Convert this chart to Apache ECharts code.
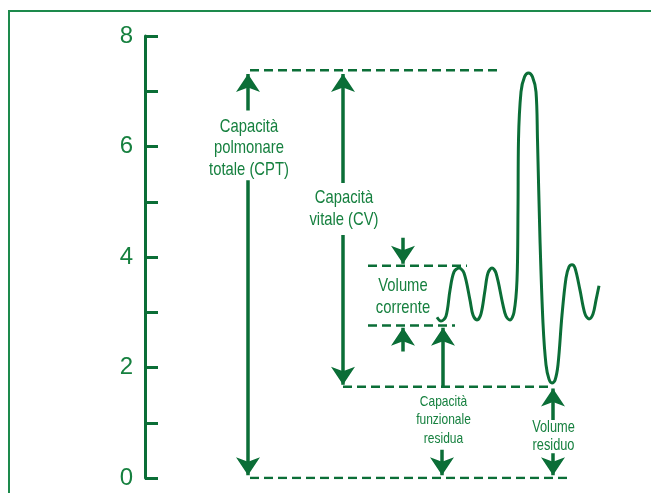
<!DOCTYPE html>
<html>
<head>
<meta charset="utf-8">
<script src="https://cdn.jsdelivr.net/npm/echarts@6/dist/echarts.min.js"></script>
<style>
  html, body { margin: 0; padding: 0; background: #fff; }
  #chart { width: 651px; height: 493px; }
</style>
</head>
<body>
<div id="chart"></div>
<script>
// spirogram: volume (litri) vs tempo (unita arbitrarie 0-100)
const yTicks = [0, 2, 4, 6, 8];

const traceX = [58.4, 59.2, 60.2, 61.0, 61.8, 62.8, 63.8, 65.0, 65.6, 66.4, 67.2, 68.0, 68.6, 69.4, 70.2,
  71.6, 72.2, 73.0, 73.8, 74.4, 74.6, 74.7, 75.2, 75.9, 76.7, 77.5, 78.2, 78.5, 79.0, 79.6,
  80.2, 80.8, 81.4, 82.0, 82.6, 83.4, 84.2, 84.8, 85.4, 86.0, 87.0, 88.0, 88.8, 89.6, 90.2, 90.8];
const traceY = [2.91, 2.84, 2.93, 3.40, 3.73, 3.80, 3.71, 3.22, 2.95, 2.86, 2.97, 3.40, 3.71, 3.80, 3.71,
  3.13, 2.93, 2.86, 3.00, 3.58, 4.85, 6.12, 6.99, 7.26, 7.33, 7.26, 6.99, 6.12, 4.31, 2.80,
  2.05, 1.79, 1.72, 1.77, 2.05, 2.95, 3.62, 3.82, 3.86, 3.80, 3.40, 2.97, 2.88, 2.97, 3.22, 3.48];

// livelli tratteggiati: [y, xStart, xEnd]
const levelTLC = [7.38, 21, 71];
const levelZero = [0, 21, 84.6];
const levelFRC = [1.65, 39.6, 81.4];
const levelVTtop = [3.84, 44.6, 64.4];
const levelVTbot = [2.76, 44.6, 62];

// frecce: [x, yFrom, yTo]  (punta su yTo)
const arrows = [
  [20.6, 6.65, 7.31], [20.6, 5.39, 0.05],
  [39.6, 5.34, 7.31], [39.6, 4.40, 1.69],
  [51.6, 4.35, 3.88], [51.6, 2.29, 2.72],
  [59.6, 1.65, 2.72],
  [59.4, 0.51, 0.05],
  [81.6, 1.05, 1.62], [81.6, 0.45, 0.05]
];

// etichette: [testo, x, y]
const labelsBig = [
  ['Capacità\npolmonare\ntotale (CPT)', 20.8, 5.97],
  ['Capacità\nvitale (CV)', 39.8, 4.87],
  ['Volume\ncorrente', 51.6, 3.28]
];
const labelsSmall = [
  ['Capacità\nfunzionale\nresidua', 59.7, 1.05]
];
const labelsMid = [
  ['Volume\nresiduo', 81.7, 0.75]
];

const GREEN = '#0b6e37';
const TEXT = '#16803f';
const FONT = '"Liberation Sans", Arial, sans-serif';

function levelLine(l) {
  return {
    type: 'line',
    data: [[l[1], l[0]], [l[2], l[0]]],
    symbol: 'none',
    silent: true,
    lineStyle: { color: GREEN, width: 2.5, type: [9, 5] }
  };
}

const chart = echarts.init(document.getElementById('chart'), null, { renderer: 'canvas' });

chart.setOption({
  animation: false,
  backgroundColor: '#fff',
  grid: { left: 145, right: 6, top: 36, bottom: 15 },
  xAxis: {
    type: 'value', min: 0, max: 100,
    show: false
  },
  yAxis: {
    type: 'value', min: 0, max: 8, interval: 1,
    axisLine: { show: true, lineStyle: { color: GREEN, width: 3 } },
    axisTick: { show: true, inside: true, length: 13, lineStyle: { color: GREEN, width: 3 } },
    splitLine: { show: false },
    axisLabel: {
      margin: 12,
      padding: [6, 0, 0, 0],
      color: TEXT,
      fontFamily: FONT,
      fontSize: 24,
      formatter: v => (yTicks.indexOf(v) >= 0 ? String(v) : '')
    }
  },
  series: [
    levelLine(levelTLC),
    levelLine(levelZero),
    levelLine(levelFRC),
    levelLine(levelVTtop),
    levelLine(levelVTbot),
    {
      type: 'line',
      data: traceX.map((x, i) => [x, traceY[i]]),
      smooth: 0.35,
      symbol: 'none',
      silent: true,
      lineStyle: { color: GREEN, width: 3 }
    },
    {
      type: 'lines',
      coordinateSystem: 'cartesian2d',
      silent: true,
      symbol: ['none', 'arrow'],
      symbolSize: [12, 18],
      lineStyle: { color: GREEN, width: 3.5, opacity: 1 },
      data: arrows.map(a => ({ coords: [[a[0], a[1]], [a[0], a[2]]] }))
    }
  ]
});

// testi in carattere stretto (scaleX) posizionati in coordinate dati
function textEls(list, size, lh) {
  return list.map(d => {
    const p = chart.convertToPixel({ gridIndex: 0 }, [d[1], d[2]]);
    return {
      type: 'text',
      x: p[0], y: p[1],
      scaleX: 0.8,
      silent: true,
      style: {
        text: d[0],
        fill: TEXT,
        font: size + 'px ' + FONT,
        lineHeight: lh,
        align: 'center',
        verticalAlign: 'middle'
      }
    };
  });
}

chart.setOption({
  graphic: [{
    type: 'rect',
    shape: { x: 9, y: 11, width: 700, height: 600 },
    style: { fill: 'none', stroke: '#1d8a4c', lineWidth: 2 },
    silent: true
  }].concat(
    textEls(labelsBig, 18.5, 21.5),
    textEls(labelsSmall, 15, 18.5),
    textEls(labelsMid, 16, 17.5)
  )
});
</script>
</body>
</html>
